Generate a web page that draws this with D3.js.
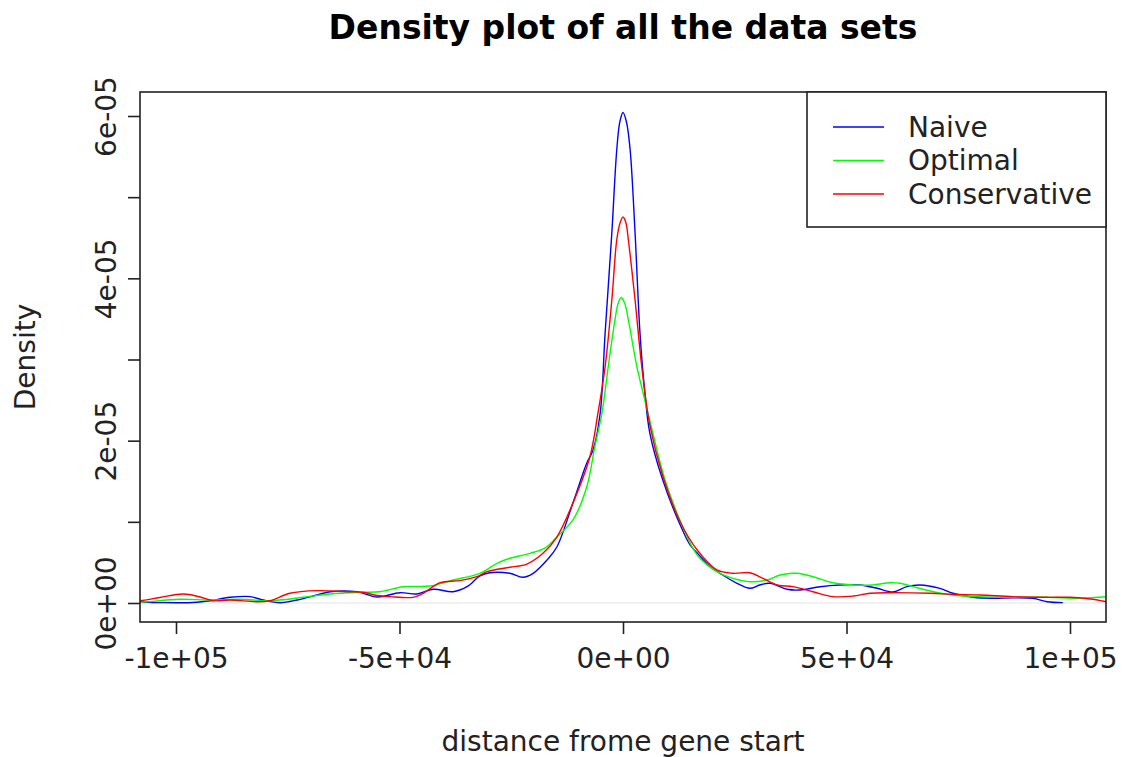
<!DOCTYPE html>
<html>
<head>
<meta charset="utf-8">
<script src="https://cdn.jsdelivr.net/npm/d3@7"></script>
<style>
  html, body { margin: 0; padding: 0; background: #ffffff; }
  svg { display: block; font-family: "DejaVu Sans", sans-serif; }
</style>
</head>
<body>
<svg id="chart" width="1122" height="757"></svg>
<script>
// ---- data (distance from gene start, density) ----
const naiveX = [-108000,-102900,-95300,-92400,-87900,-83400,-80500,-76700,-72900,-68500,-65500,-59500,-55000,-49900,-46100,-42500,-38000,-34900,-32000,-29800,-25300,-22400,-20100,-17000,-14800,-11200,-8100,-6700,-5100,-4000,-2500,-1400,-700,0,800,1600,2700,3800,4900,6000,8900,12800,15000,16600,19500,21700,25500,28400,30600,32900,36700,39600,44100,48500,53000,56800,60400,63500,66400,70900,73800,78300,82800,87200,91700,94900,98400];
const naiveY = [0.16e-6,0.04e-6,0.09e-6,0.28e-6,0.70e-6,0.78e-6,0.37e-6,0.04e-6,0.37e-6,0.99e-6,1.39e-6,1.39e-6,0.74e-6,1.27e-6,1.11e-6,1.69e-6,1.39e-6,2.01e-6,3.33e-6,3.73e-6,3.66e-6,3.17e-6,3.66e-6,5.30e-6,6.90e-6,12.32e-6,17.25e-6,18.85e-6,23.41e-6,33.26e-6,45.58e-6,55.81e-6,59.30e-6,60.43e-6,59.20e-6,55.81e-6,45.58e-6,33.26e-6,25.87e-6,20.94e-6,15.15e-6,9.61e-6,7.15e-6,6.16e-6,4.47e-6,3.66e-6,2.43e-6,1.81e-6,2.22e-6,2.43e-6,1.69e-6,1.60e-6,2.01e-6,2.22e-6,2.22e-6,1.81e-6,1.36e-6,2.01e-6,2.22e-6,1.81e-6,1.20e-6,0.70e-6,0.58e-6,0.65e-6,0.58e-6,0.16e-6,0.04e-6];

const optimalX = [-110000,-108000,-99100,-92400,-85700,-79000,-71600,-65500,-58200,-54400,-49200,-43200,-38000,-32000,-28200,-25300,-20800,-17400,-14800,-11200,-8100,-6300,-4700,-3300,-1800,-1100,-400,400,1200,3100,4500,6500,9400,13200,16600,21000,24600,28400,32200,35100,38900,42500,47000,51500,55900,59700,62000,64900,69400,73800,79900,87200,94900,102200,108100,110000];
const optimalY = [0.08e-6,0.09e-6,0.46e-6,0.37e-6,0.46e-6,0.28e-6,0.70e-6,1.11e-6,1.32e-6,1.39e-6,2.01e-6,2.09e-6,2.83e-6,3.66e-6,4.89e-6,5.51e-6,6.12e-6,6.78e-6,8.13e-6,10.23e-6,14.33e-6,19.26e-6,23.41e-6,29.11e-6,34.87e-6,36.90e-6,37.64e-6,36.90e-6,34.87e-6,29.11e-6,25.87e-6,21.31e-6,15.15e-6,9.61e-6,5.91e-6,3.86e-6,3.04e-6,2.62e-6,2.83e-6,3.45e-6,3.66e-6,3.24e-6,2.50e-6,2.22e-6,2.22e-6,2.50e-6,2.43e-6,2.01e-6,1.39e-6,0.99e-6,0.78e-6,0.70e-6,0.70e-6,0.58e-6,0.78e-6,0.80e-6];

const conservativeX = [-110000,-108000,-103600,-98400,-94600,-91700,-87900,-81900,-79000,-74500,-68500,-61700,-58200,-55000,-52100,-47000,-44700,-40900,-36500,-32700,-30400,-25300,-21500,-17900,-14800,-11200,-7400,-5600,-4000,-2500,-1400,-650,0,650,1200,2700,4200,6000,8900,12800,16600,21000,24600,28400,31300,34500,38000,42500,47000,51500,55300,59700,68700,73800,79900,87200,94900,100000,105100,108100,110000];
const conservativeY = [0.25e-6,0.28e-6,0.68e-6,1.11e-6,0.74e-6,0.28e-6,0.37e-6,0.16e-6,0.28e-6,1.20e-6,1.52e-6,1.39e-6,1.32e-6,0.92e-6,0.78e-6,0.70e-6,1.20e-6,2.50e-6,2.75e-6,3.24e-6,3.86e-6,4.40e-6,4.80e-6,6.12e-6,8.13e-6,12.32e-6,18.02e-6,23.41e-6,29.11e-6,37.33e-6,44.72e-6,46.85e-6,47.56e-6,46.85e-6,44.72e-6,37.33e-6,29.11e-6,21.93e-6,15.65e-6,9.98e-6,6.53e-6,4.07e-6,3.66e-6,3.73e-6,3.04e-6,2.22e-6,2.01e-6,1.39e-6,0.78e-6,0.86e-6,1.20e-6,1.27e-6,1.20e-6,1.07e-6,0.99e-6,0.78e-6,0.70e-6,0.70e-6,0.46e-6,0.16e-6,0.05e-6];

const seriesNames = ["Naive", "Optimal", "Conservative"];
const seriesColors = ["#0000ff", "#00ff00", "#ff0000"];
const xTickValues = [-1e5, -5e4, 0, 5e4, 1e5];
const xTickLabels = ["-1e+05", "-5e+04", "0e+00", "5e+04", "1e+05"];
const yTickValues = [0, 1e-5, 2e-5, 3e-5, 4e-5, 5e-5, 6e-5];
const yTickLabels = ["0e+00", "", "2e-05", "", "4e-05", "", "6e-05"];
const titleText = "Density plot of all the data sets";
const xLabelText = "distance frome gene start";
const yLabelText = "Density";

// ---- layout ----
const svg = d3.select("#chart");
const frame = { left: 140, right: 1106, top: 92, bottom: 622 };
const x = d3.scaleLinear().domain([-1e5, 1e5]).range([176, 1070]);
const y = d3.scaleLinear().domain([0, 6e-5]).range([603, 116]);
const ink = "#222";
const fs = 28;

svg.append("defs").append("clipPath").attr("id", "plotclip")
  .append("rect")
  .attr("x", frame.left).attr("y", frame.top)
  .attr("width", frame.right - frame.left).attr("height", frame.bottom - frame.top);

// zero reference line
svg.append("line")
  .attr("x1", frame.left).attr("x2", frame.right)
  .attr("y1", y(0)).attr("y2", y(0))
  .attr("stroke", "#e3e3e3").attr("stroke-width", 1);

// curves
const series = [
  { xs: naiveX, ys: naiveY },
  { xs: optimalX, ys: optimalY },
  { xs: conservativeX, ys: conservativeY }
];
const line = d3.line()
  .x(d => x(d[0])).y(d => y(d[1]))
  .curve(d3.curveCatmullRom.alpha(0.5));
const gLines = svg.append("g").attr("clip-path", "url(#plotclip)");
series.forEach((s, i) => {
  const pts = s.xs.map((v, k) => [v, s.ys[k]]);
  gLines.append("path")
    .datum(pts)
    .attr("d", line)
    .attr("fill", "none")
    .attr("stroke", seriesColors[i])
    .attr("stroke-width", 1.4)
    .attr("stroke-linejoin", "round");
});

// frame
svg.append("rect")
  .attr("x", frame.left).attr("y", frame.top)
  .attr("width", frame.right - frame.left).attr("height", frame.bottom - frame.top)
  .attr("fill", "none").attr("stroke", ink).attr("stroke-width", 1.6);

// x axis
const xAxis = d3.axisBottom(x)
  .tickValues(xTickValues)
  .tickFormat((d, i) => xTickLabels[i])
  .tickSize(12).tickPadding(14);
const gx = svg.append("g").attr("transform", `translate(0,${frame.bottom})`).call(xAxis);
gx.select(".domain").remove();
gx.selectAll(".tick line").attr("stroke", ink).attr("stroke-width", 1.6);
gx.selectAll(".tick text").attr("fill", ink).attr("font-size", fs)
  .attr("font-family", "DejaVu Sans, sans-serif");

// y axis
const yAxis = d3.axisLeft(y)
  .tickValues(yTickValues)
  .tickFormat((d, i) => yTickLabels[i])
  .tickSize(12).tickPadding(0);
const gy = svg.append("g").attr("transform", `translate(${frame.left},0)`).call(yAxis);
gy.select(".domain").remove();
gy.selectAll(".tick line").attr("stroke", ink).attr("stroke-width", 1.6);
gy.selectAll(".tick text")
  .attr("fill", ink).attr("font-size", fs)
  .attr("font-family", "DejaVu Sans, sans-serif")
  .attr("x", null).attr("dy", null)
  .attr("text-anchor", "middle")
  .attr("transform", "translate(-34,0) rotate(-90)")
  .attr("dominant-baseline", "central");

// titles
svg.append("text")
  .attr("x", (frame.left + frame.right) / 2).attr("y", 27)
  .attr("text-anchor", "middle").attr("dominant-baseline", "central")
  .attr("font-size", 33).attr("font-weight", "bold").attr("fill", "#000")
  .text(titleText);
svg.append("text")
  .attr("x", (frame.left + frame.right) / 2).attr("y", 741)
  .attr("text-anchor", "middle").attr("dominant-baseline", "central")
  .attr("font-size", fs).attr("fill", ink)
  .text(xLabelText);
svg.append("text")
  .attr("transform", `translate(25,${(frame.top + frame.bottom) / 2}) rotate(-90)`)
  .attr("text-anchor", "middle").attr("dominant-baseline", "central")
  .attr("font-size", fs).attr("fill", ink)
  .text(yLabelText);

// legend
const leg = { left: 807, top: 92, right: 1106, bottom: 227 };
svg.append("rect")
  .attr("x", leg.left).attr("y", leg.top)
  .attr("width", leg.right - leg.left).attr("height", leg.bottom - leg.top)
  .attr("fill", "#fff").attr("stroke", ink).attr("stroke-width", 1.6);
const legY = d3.scalePoint().domain(seriesNames).range([127, 194]);
seriesNames.forEach((name, i) => {
  svg.append("line")
    .attr("x1", 833).attr("x2", 884)
    .attr("y1", legY(name)).attr("y2", legY(name))
    .attr("stroke", seriesColors[i]).attr("stroke-width", 1.4);
  svg.append("text")
    .attr("x", 908).attr("y", legY(name))
    .attr("dominant-baseline", "central")
    .attr("font-size", fs).attr("fill", ink)
    .text(name);
});
</script>
</body>
</html>
